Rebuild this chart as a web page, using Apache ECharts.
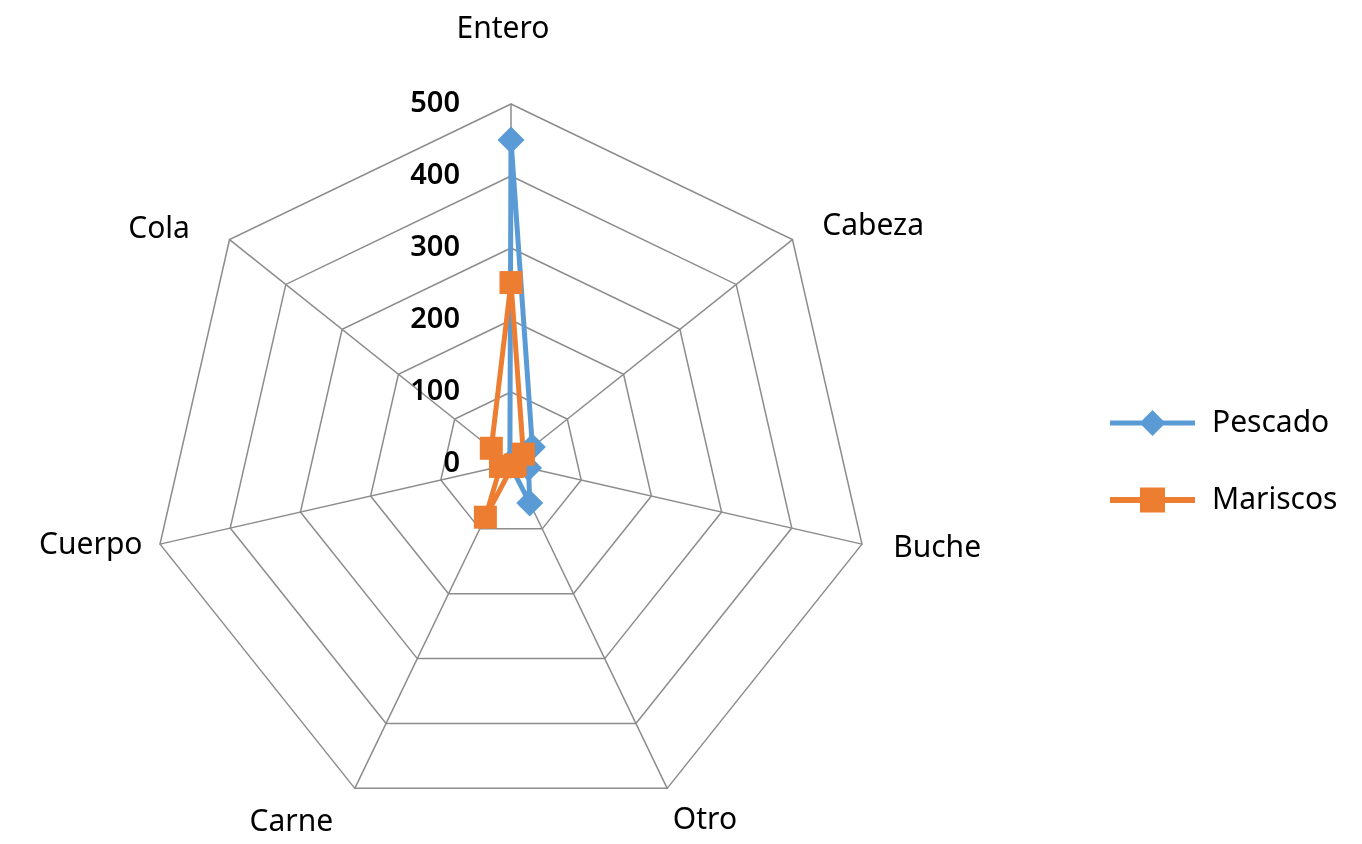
<!DOCTYPE html>
<html>
<head>
<meta charset="utf-8">
<script src="https://cdn.jsdelivr.net/npm/echarts@6/dist/echarts.min.js"></script>
<style>html,body{margin:0;padding:0;background:#fff;}#c{width:1362px;height:844px;}</style>
</head>
<body>
<div id="c"></div>
<script>
// Categories in ECharts radar order (counter-clockwise from top)
const categories = ['Entero', 'Cola', 'Cuerpo', 'Carne', 'Otro', 'Buche', 'Cabeza'];
const pescado = [450, 2, 2, 2, 60, 25, 38];
const mariscos = [252, 35, 15, 82, 4, 6, 22];
const seriesNames = ['Pescado', 'Mariscos'];
const axisMax = 500;

// label placement tweaks per indicator
const nameLayout = {
  Entero: { gap: 60, style: { padding: [0, 16, 0, 0] } },
  Cola:   { gap: 20, style: { padding: [0, 24, 0, 0], verticalAlign: 'top', lineHeight: 4 } },
  Cuerpo: { gap: 18, style: { verticalAlign: 'bottom', lineHeight: 6 } },
  Carne:  { gap: 36, style: { padding: [0, 6, 0, 0], verticalAlign: 'top', lineHeight: 4 } },
  Otro:   { gap: 13, style: { verticalAlign: 'top', lineHeight: 40 } },
  Buche:  { gap: 32, style: { verticalAlign: 'bottom', lineHeight: 6 } },
  Cabeza: { gap: 38, style: { verticalAlign: 'top', lineHeight: 22 } }
};

const indicator = categories.map((name, i) => ({
  name: name,
  max: axisMax,
  min: 0,
  nameGap: nameLayout[name].gap,
  nameTextStyle: nameLayout[name].style,
  axisLabel: { show: i === 0 }
}));

const chart = echarts.init(document.getElementById('c'));
chart.setOption({
  backgroundColor: '#ffffff',
  animation: false,
  legend: {
    orient: 'vertical',
    left: 1110,
    top: 408,
    padding: 0,
    itemWidth: 85,
    itemHeight: 26,
    itemGap: 47,
    textStyle: { fontFamily: 'Noto Sans', fontSize: 30, color: '#000', lineHeight: 30, padding: [0, 0, 0, 12] },
    data: [
      { name: 'Pescado', icon: 'path://M0,10.5 L85,10.5 L85,15.5 L0,15.5 Z M42.5,0 L55.5,13 L42.5,26 L29.5,13 Z' },
      { name: 'Mariscos', icon: 'path://M0,10 L85,10 L85,16 L0,16 Z M30,0.5 L55,0.5 L55,25.5 L30,25.5 Z' }
    ]
  },
  radar: {
    center: [511, 464],
    radius: 360,
    startAngle: 90,
    splitNumber: 5,
    shape: 'polygon',
    indicator: indicator,
    axisName: { color: '#000', fontFamily: 'Noto Sans', fontSize: 30, lineHeight: 30 },
    axisLine: { show: true, lineStyle: { color: '#8c8c8c', width: 1.5 } },
    splitLine: { show: true, lineStyle: { color: '#8c8c8c', width: 1.5 } },
    splitArea: { show: false },
    axisTick: { show: false },
    axisLabel: {
      show: false,
      margin: 51,
      color: '#000',
      fontFamily: 'Noto Sans',
      fontSize: 29,
      fontWeight: 600
    }
  },
  series: [{
    type: 'radar',
    data: [
      {
        name: seriesNames[0],
        value: pescado,
        symbol: 'diamond',
        symbolSize: [27, 27],
        itemStyle: { color: '#5B9BD5' },
        lineStyle: { color: '#5B9BD5', width: 5 }
      },
      {
        name: seriesNames[1],
        value: mariscos,
        symbol: 'rect',
        symbolSize: 23,
        itemStyle: { color: '#ED7D31' },
        lineStyle: { color: '#ED7D31', width: 5 }
      }
    ]
  }]
});
</script>
</body>
</html>
